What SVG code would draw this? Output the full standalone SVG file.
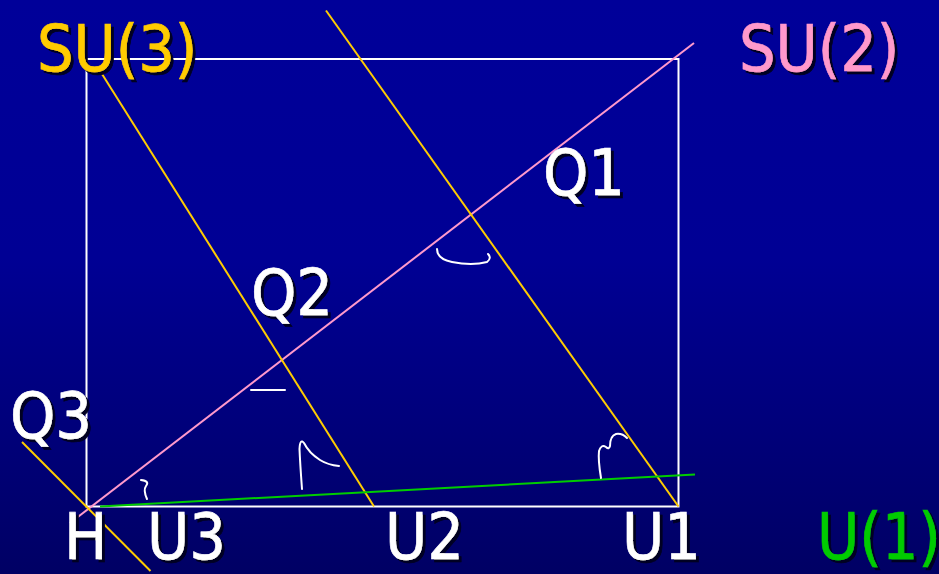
<svg xmlns="http://www.w3.org/2000/svg" width="939" height="574" viewBox="0 0 939 574">
  <defs>
    <linearGradient id="bg" x1="0" y1="0" x2="0" y2="1">
      <stop offset="0" stop-color="#000099"/>
      <stop offset="0.45" stop-color="#000094"/>
      <stop offset="1" stop-color="#000064"/>
    </linearGradient>
    <filter id="sh" x="-10%" y="-10%" width="130%" height="130%">
      <feDropShadow dx="3" dy="3" stdDeviation="0" flood-color="#000020" flood-opacity="1"/>
    </filter>
  </defs>
  <style>
    .lbl { font-family: "DejaVu Sans Condensed", "DejaVu Sans", sans-serif; font-stretch: condensed; font-size: 64px; filter: url(#sh); stroke-width: 0.6; }
    .w { fill: #FFFFFF; stroke: #FFFFFF; }
    .y { fill: #FFCC00; stroke: #FFCC00; }
    .p { fill: #FF99CC; stroke: #FF99CC; }
    .g { fill: #00CC00; stroke: #00CC00; }
    .ln { fill: none; stroke-width: 2; }
    .yl { stroke: #FFCC00; }
    .mk { fill: none; stroke: #FFFFFF; stroke-width: 2; stroke-linecap: round; stroke-linejoin: round; }
  </style>
  <rect width="939" height="574" fill="url(#bg)"/>

  <g id="connectors">
    <rect x="86.5" y="59" width="592" height="447.5" fill="none" stroke="#FFFFFF" stroke-width="2"/>
    <line class="ln" x1="694" y1="43" x2="70" y2="523" stroke="#FF99CC"/>
    <line class="ln yl" x1="326" y1="10.5" x2="678.5" y2="506.5"/>
    <line class="ln yl" x1="102" y1="74" x2="374" y2="506.5"/>
    <line class="ln yl" x1="22" y1="442" x2="150.5" y2="571"/>
    <line class="ln" x1="100" y1="506.5" x2="695" y2="474.5" stroke="#00CC00"/>
  </g>

  <g id="marks">
    <path class="mk" d="M141 480 Q150 481 146 486 Q143 490 147 499"/>
    <path class="mk" d="M251 390 L285 390"/>
    <path class="mk" d="M437 249 Q437 259 452 262 Q472 266 487 262 Q492 258 488 254"/>
    <path class="mk" d="M302 489 Q300 462 299.5 449 Q300 438 304 443 Q309 453 320 460 Q328 465 339 466"/>
    <path class="mk" d="M601 478 Q598 460 599 451 Q601 444 606 447 Q609 450 610 446 Q610 436 616 434 Q622 433 627 438"/>
  </g>

  <g id="SU3"><text class="lbl y" x="37" y="71">SU(3)</text></g>
  <g id="SU2"><text class="lbl p" x="739" y="71">SU(2)</text></g>
  <g id="Q1"><text class="lbl w" x="543" y="195">Q1</text></g>
  <g id="Q2"><text class="lbl w" x="251" y="315">Q2</text></g>
  <g id="Q3"><text class="lbl w" x="10" y="438">Q3</text></g>
  <g id="H"><text class="lbl w" x="64" y="559">H</text></g>
  <g id="U3"><text class="lbl w" x="147" y="559">U3</text></g>
  <g id="U2"><text class="lbl w" x="385" y="559">U2</text></g>
  <g id="U1"><text class="lbl w" x="622" y="559">U1</text></g>
  <g id="U1group"><text class="lbl g" x="817" y="559">U(1)</text></g>
</svg>
